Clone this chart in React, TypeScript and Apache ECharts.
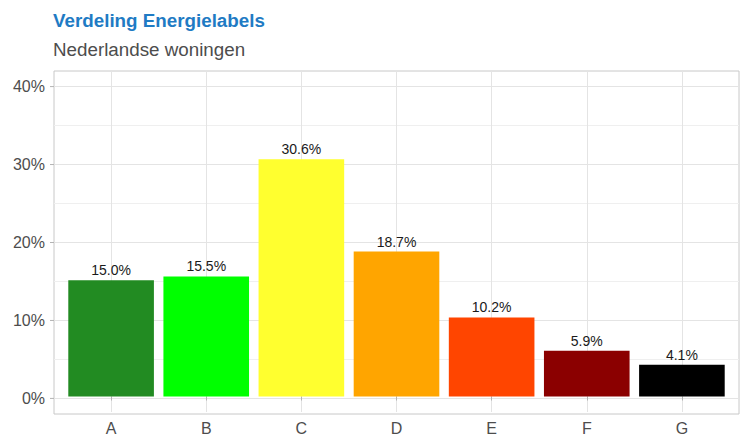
import React, { useEffect, useRef } from "react";
import * as echarts from "echarts";

const categories = ["A", "B", "C", "D", "E", "F", "G"];
const shares = [15.0, 15.5, 30.6, 18.7, 10.2, 5.9, 4.1];
const barColors = ["#228B22", "#00FF00", "#FFFF2F", "#FFA500", "#FF4500", "#8B0000", "#000000"];
const yTicks = [0, 10, 20, 30, 40];
const titleText = "Verdeling Energielabels";
const subtitleText = "Nederlandse woningen";

const FONT = 'Arial, "Liberation Sans", sans-serif';

export default function App() {
  const ref = useRef<HTMLDivElement>(null);
  useEffect(() => {
    if (!ref.current) return;
    const chart = echarts.init(ref.current, undefined, { renderer: "svg" });
    // grid line colors cycled per unit tick starting from -2
    const gridColors: string[] = [];
    for (let i = 0; i < 10; i++) {
      gridColors.push(i === 2 ? "#e4e4e4" : i === 7 ? "#efefef" : "rgba(0,0,0,0)");
    }
    const top = 71;
    const height = 343;
    chart.setOption({
      animation: false,
      backgroundColor: "#ffffff",
      textStyle: { fontFamily: FONT },
      title: [
        {
          text: titleText,
          left: 53,
          top: 11,
          padding: 0,
          textStyle: { fontSize: 18.8, fontWeight: "bold", color: "#1f7bc4", fontFamily: FONT },
        },
        {
          text: subtitleText,
          left: 53,
          top: 40,
          padding: 0,
          textStyle: { fontSize: 18.8, fontWeight: "normal", color: "#4d4d4d", fontFamily: FONT },
        },
      ],
      grid: [
        { left: 54, top, width: 685, height, show: true, borderColor: "#c8c8c8", borderWidth: 1, backgroundColor: "transparent" },
        { left: 111.1, right: 62.1, top, height, show: false },
      ],
      xAxis: [
        { gridIndex: 0, type: "value", min: 0, max: 1, show: false },
        {
          gridIndex: 1,
          type: "category",
          data: categories,
          boundaryGap: false,
          axisLine: { show: false },
          axisTick: { show: true, length: 4, lineStyle: { color: "#b3b3b3", width: 1 } },
          axisLabel: { interval: 0, fontSize: 16, color: "#4d4d4d", margin: 8, fontFamily: FONT },
          splitLine: { show: true, lineStyle: { color: "#e4e4e4", width: 1 } },
        },
      ],
      yAxis: [
        {
          gridIndex: 0,
          type: "value",
          min: -2,
          max: 42,
          interval: 1,
          axisLine: { show: false },
          axisTick: { show: false },
          axisLabel: {
            fontSize: 16,
            color: "#4d4d4d",
            margin: 9,
            fontFamily: FONT,
            formatter: (v: number) => (Math.round(v) % 10 === 0 && v >= 0 ? `${Math.round(v)}%` : ""),
          },
          splitLine: { show: true, lineStyle: { color: gridColors, width: 1 } },
        },
        { gridIndex: 1, type: "value", min: -2, max: 42, show: false },
      ],
      series: [
        {
          type: "custom",
          xAxisIndex: 0,
          yAxisIndex: 0,
          silent: true,
          clip: false,
          data: yTicks.map((v) => [0, v]),
          renderItem: (_params: any, api: any) => {
            const p = api.coord([0, api.value(1)]);
            return {
              type: "line",
              shape: { x1: p[0] - 4, y1: p[1], x2: p[0], y2: p[1] },
              style: { stroke: "#b3b3b3", lineWidth: 1 },
            };
          },
        },
        {
          type: "bar",
          xAxisIndex: 1,
          yAxisIndex: 1,
          clip: false,
          barWidth: "90%",
          data: shares.map((v, i) => ({ value: v, itemStyle: { color: barColors[i] } })),
          label: {
            show: true,
            position: "top",
            distance: 3,
            fontSize: 14,
            color: "#1a1a1a",
            fontFamily: FONT,
            formatter: (p: any) => `${Number(p.value).toFixed(1)}%`,
          },
        },
      ],
    });
    return () => chart.dispose();
  }, []);
  return (
    <div
      ref={ref}
      style={{ position: "fixed", left: 0, top: 0, width: 744, height: 436 }}
    />
  );
}
